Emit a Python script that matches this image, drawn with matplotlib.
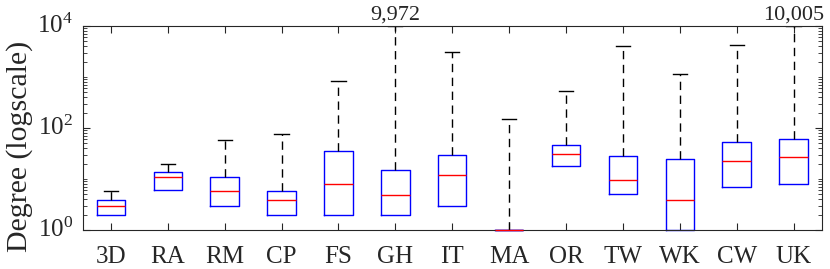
import matplotlib
matplotlib.use("Agg")
import matplotlib.pyplot as plt
from matplotlib.ticker import LogLocator, NullFormatter

categories = ["3D", "RA", "RM", "CP", "FS", "GH", "IT", "MA", "OR", "TW", "WK", "CW", "UK"]
q1 = [2, 6, 3, 2, 2, 2, 3, 1, 17.7, 5, 1, 6.9, 7.9]
median = [2.9, 10.8, 5.8, 3.9, 7.9, 4.9, 11.8, 1, 30.5, 9.7, 3.9, 22.5, 26.6]
q3 = [3.9, 13.5, 10.8, 5.8, 35.9, 14.8, 29.1, 1, 47, 28.6, 24.3, 52.4, 60.9]
whisker_low = [2, 6, 3, 2, 2, 2, 3, 1, 17.7, 5, 1, 6.9, 7.9]
whisker_high = [5.8, 19.7, 57, 76, 847, 9972, 3133, 150, 532, 4107, 1161, 4300, 10005]
max_labels = {"GH": "9,972", "UK": "10,005"}

plt.rcParams['font.family'] = ['Liberation Serif', 'DejaVu Serif']
plt.rcParams['mathtext.fontset'] = 'custom'
plt.rcParams['mathtext.rm'] = 'Liberation Serif'
plt.rcParams['mathtext.it'] = 'Liberation Serif:italic'

fig = plt.figure(figsize=(8.3, 2.69), dpi=100)
ax = fig.add_axes([0.0994, 0.145, 0.8910, 0.7583])

stats = []
for i, c in enumerate(categories):
    stats.append(dict(label=c, med=median[i], q1=q1[i], q3=q3[i],
                      whislo=whisker_low[i], whishi=whisker_high[i], fliers=[]))

res = ax.bxp(stats, positions=range(1, len(categories) + 1), widths=0.5,
             showfliers=False, patch_artist=False,
             boxprops=dict(color='blue', linewidth=1.0),
             medianprops=dict(color='red', linewidth=1.0),
             whiskerprops=dict(color='black', linestyle=(0, (6, 4)), linewidth=1.0),
             capprops=dict(color='black', linewidth=1.0),
             capwidths=0.25)
for m in res['medians']:
    m.set_clip_on(False)
    m.set_zorder(3)
for b in res['boxes']:
    b.set_clip_on(False)
# lower caps coincide with the box bottom; hide them
for k, cap in enumerate(res['caps']):
    if k % 2 == 0:
        cap.set_visible(False)
for k, w in enumerate(res['whiskers']):
    if k % 2 == 0:
        w.set_visible(False)

ax.set_yscale('log')
ax.set_ylim(1, 1e4)
ax.set_xlim(0.5, len(categories) + 0.5)
ax.set_yticks([1, 1e2, 1e4])
ax.yaxis.set_minor_locator(LogLocator(base=10, subs=[1, 2, 3, 4, 5, 6, 7, 8, 9], numticks=20))
ax.yaxis.set_minor_formatter(NullFormatter())

ax.tick_params(axis='both', which='both', direction='in', top=True, right=True,
               colors='#262626', labelcolor='#262626')
ax.tick_params(axis='both', which='major', length=5, labelsize=18, width=0.8)
ax.tick_params(axis='y', which='major', pad=7)
ax.tick_params(axis='y', which='minor', length=3, width=0.6)
ax.tick_params(axis='x', which='major', pad=11.5)
for lab in ax.get_yticklabels():
    lab.set_va('center')
for s in ax.spines.values():
    s.set_color('#262626')
    s.set_linewidth(0.8)

ax.set_ylabel('Degree (logscale)', fontsize=21.5, color='#262626')
ax.yaxis.set_label_coords(-0.067, 0.41)

for i, c in enumerate(categories):
    if c in max_labels:
        ax.text(i + 1, 1.05e4, max_labels[c], ha='center', va='bottom',
                fontsize=16, color='#262626')

fig.savefig('out.png', dpi=100)
